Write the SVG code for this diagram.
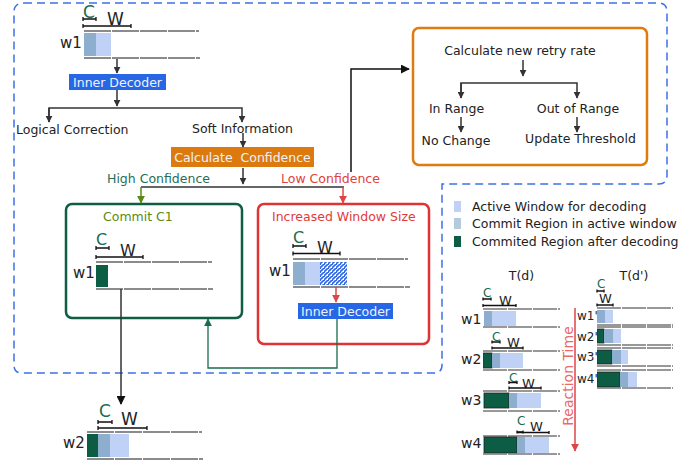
<svg xmlns="http://www.w3.org/2000/svg" width="699" height="464" viewBox="0 0 699 464">
<style>
text{font-family:"DejaVu Sans","Liberation Sans",sans-serif;font-size:12.5px;fill:#222}
.c{fill:#1a6b4f}
.seg{stroke:#666;stroke-width:1.5;stroke-dasharray:27 1;fill:none}
.seg2{stroke:#777;stroke-width:1.5;stroke-dasharray:24 1;fill:none}
.tick{stroke:#111;stroke-width:1.3;fill:none}
.act{fill:#bfd2f6}
.com{fill:#8eaed0}
.dk{fill:#0d5c44}
.dkb{fill:#0d5c44;stroke:#222;stroke-width:0.8}
.ln{stroke:#333;stroke-width:1.5;fill:none}
.wt{fill:#eef3fb}
</style>
<defs>
<marker id="ah" viewBox="0 0 10 10" refX="9" refY="5" markerWidth="7" markerHeight="7" orient="auto" markerUnits="userSpaceOnUse"><path d="M0,0 L10,5 L0,10 z" fill="#333"/></marker>
<marker id="ahb" viewBox="0 0 10 10" refX="9" refY="5" markerWidth="9" markerHeight="9" orient="auto" markerUnits="userSpaceOnUse"><path d="M0,0 L10,5 L0,10 z" fill="#111"/></marker>
<marker id="ahg" viewBox="0 0 10 10" refX="9" refY="5" markerWidth="8" markerHeight="8" orient="auto" markerUnits="userSpaceOnUse"><path d="M0,0 L10,5 L0,10 z" fill="#5a8a10"/></marker>
<marker id="ahr" viewBox="0 0 10 10" refX="9" refY="5" markerWidth="8" markerHeight="8" orient="auto" markerUnits="userSpaceOnUse"><path d="M0,0 L10,5 L0,10 z" fill="#e04545"/></marker>
<marker id="aht" viewBox="0 0 10 10" refX="9" refY="5" markerWidth="8" markerHeight="8" orient="auto" markerUnits="userSpaceOnUse"><path d="M0,0 L10,5 L0,10 z" fill="#1a6b4f"/></marker>
<pattern id="hatch" width="4" height="4" patternUnits="userSpaceOnUse">
<rect width="4" height="4" fill="#ffffff"/>
<path d="M0,4 L4,0" stroke="#2f66e0" stroke-width="1.6"/>
<rect x="0" y="0" width="1" height="1" fill="#2f66e0"/>
</pattern>
</defs>

<!-- dashed outline -->
<path d="M24,3 H658 Q667,3 667,12 V175 Q667,184 659,184 H442 V365 Q442,373 434,373 H22 Q14,373 14,365 V12 Q14,3 24,3 Z" fill="none" stroke="#3d72e6" stroke-width="1.5" stroke-dasharray="8 5"/>

<g id="w1-top">
<text x="83" y="18" class="c" style="font-size:17px">C</text>
<path class="tick" d="M83,19 H96 M83,17 V21 M96,17 V21"/>
<text x="107" y="25" style="font-size:17px">W</text>
<path class="tick" d="M83,26 H131 M83,24 V28 M131,24 V28"/>
<line class="seg" x1="84" y1="31" x2="199" y2="31"/>
<rect class="com" x="84" y="33" width="12" height="23"/>
<rect class="act" x="96" y="33" width="15" height="23"/>
<line class="seg" x1="84" y1="58" x2="200" y2="58"/>
<text x="60" y="48" style="font-size:15px">w1</text>
</g>

<g id="inner-decoder-1">
<rect x="69" y="74" width="97" height="16" fill="#2767e6"/>
<text x="117.5" y="86.5" class="wt" text-anchor="middle" style="font-size:12.5px">Inner Decoder</text>
</g>

<g id="logical-correction"><text x="16" y="134">Logical Correction</text></g>
<g id="soft-information"><text x="192" y="133">Soft Information</text></g>

<g id="calc-confidence">
<rect x="171" y="147" width="143" height="20" fill="#dc7a0f"/>
<text x="242.5" y="162" class="wt" text-anchor="middle" style="font-size:12.5px">Calculate&#160; Confidence</text>
</g>

<g id="labels">
<text x="107" y="183" style="fill:#1f6e5a">High Confidence</text>
<text x="281" y="183" style="fill:#e04040">Low Confidence</text>
</g>

<g id="commit-box">
<rect x="66" y="204" width="176" height="114" rx="6" fill="none" stroke="#0e5e45" stroke-width="2.5"/>
<text x="103" y="221" style="fill:#5a8a10">Commit C1</text>
<text x="96" y="245" class="c" style="font-size:16px">C</text>
<path class="tick" d="M96,248 H109 M96,246 V250 M109,246 V250"/>
<text x="120" y="256" style="font-size:16px">W</text>
<path class="tick" d="M96,257 H143 M96,255 V259 M143,255 V259"/>
<line class="seg" x1="96" y1="262" x2="212" y2="262"/>
<rect class="dk" x="96" y="265" width="12" height="22"/>
<line class="seg" x1="96" y1="289" x2="213" y2="289"/>
<text x="73" y="278" style="font-size:15px">w1</text>
</g>

<g id="increased-window-box">
<rect x="258" y="204" width="171" height="140" rx="6" fill="none" stroke="#e03333" stroke-width="2.5"/>
<text x="272" y="221" style="fill:#e03b3b">Increased Window Size</text>
<text x="293" y="243" class="c" style="font-size:16px">C</text>
<path class="tick" d="M293,246 H306 M293,244 V248 M306,244 V248"/>
<text x="317" y="253" style="font-size:16px">W</text>
<path class="tick" d="M293,253.5 H340 M293,251.5 V255.5 M340,251.5 V255.5"/>
<line class="seg" x1="293" y1="259" x2="408" y2="259"/>
<rect class="com" x="293" y="262" width="12" height="23"/>
<rect class="act" x="305" y="262" width="15" height="23"/>
<rect x="320" y="262" width="27" height="23" fill="url(#hatch)"/>
<line class="seg" x1="293" y1="287" x2="410" y2="287"/>
<text x="269" y="276" style="font-size:15px">w1</text>
<rect x="298" y="303" width="95" height="16" fill="#2767e6"/>
<text x="345.5" y="315.5" class="wt" text-anchor="middle">Inner Decoder</text>
</g>

<g id="retry-box">
<rect x="413" y="28" width="234" height="137" rx="6" fill="none" stroke="#e07b10" stroke-width="2.5"/>
<text x="520" y="55" text-anchor="middle">Calculate new retry rate</text>
<text x="456.5" y="113" text-anchor="middle">In Range</text>
<text x="578" y="113" text-anchor="middle">Out of Range</text>
<text x="456" y="145" text-anchor="middle">No Change</text>
<text x="580.5" y="143" text-anchor="middle">Update Threshold</text>
<g class="conn">
<line class="ln" x1="523" y1="60" x2="523" y2="76" marker-end="url(#ah)"/>
<path class="ln" d="M461,98 V83 H577 V98" marker-end="url(#ah)"/>
<line class="ln" x1="461" y1="83" x2="461" y2="98" marker-end="url(#ah)"/>
<line class="ln" x1="461" y1="117" x2="461" y2="132" marker-end="url(#ah)"/>
<line class="ln" x1="577" y1="117" x2="577" y2="132" marker-end="url(#ah)"/>
</g>
</g>

<g id="w2-bottom">
<text x="99" y="417" class="c" style="font-size:17px">C</text>
<path class="tick" d="M98,422 H112 M98,420 V424 M112,420 V424"/>
<text x="121" y="425" style="font-size:17px">W</text>
<path class="tick" d="M98,428 H147 M98,426 V430 M147,426 V430"/>
<line class="seg" x1="87" y1="432" x2="202" y2="432"/>
<rect class="dk" x="87" y="434" width="11" height="23"/>
<rect class="com" x="98" y="434" width="12" height="23"/>
<rect class="act" x="110" y="434" width="19" height="23"/>
<line class="seg" x1="87" y1="459" x2="203" y2="459"/>
<text x="63" y="448" style="font-size:15px">w2</text>
</g>

<g id="legend">
<rect x="454" y="201" width="7" height="11" fill="#bfd2f6"/>
<text x="472" y="211">Active Window for decoding</text>
<rect x="454" y="218" width="7" height="11" fill="#b3cbdc"/>
<text x="472" y="228">Commit Region in active window</text>
<rect x="454" y="236" width="7" height="11" fill="#0d5c44"/>
<text x="472" y="246">Commited Region after decoding</text>
</g>

<g id="timeline-d">
<text x="521.5" y="280" text-anchor="middle">T(d)</text>
<!-- w1 -->
<text x="483" y="297" class="c" style="font-size:12px">C</text>
<path class="tick" d="M483,299 H491 M483,297.5 V300.5 M491,297.5 V300.5"/>
<text x="499" y="305" style="font-size:13px">W</text>
<path class="tick" d="M483,305.5 H516 M483,304 V307 M516,304 V307"/>
<line class="seg2" x1="483" y1="309" x2="560" y2="309"/>
<rect class="com" x="484" y="311" width="8" height="15"/>
<rect class="act" x="492" y="311" width="24" height="15"/>
<line class="seg2" x1="483" y1="327" x2="560" y2="327"/>
<text x="461" y="324" style="font-size:14px">w1</text>
<!-- w2 -->
<text x="492" y="341" class="c" style="font-size:12px">C</text>
<path class="tick" d="M492,342 H500 M492,340.5 V343.5 M500,340.5 V343.5"/>
<text x="507" y="347" style="font-size:13px">W</text>
<path class="tick" d="M492,348 H523 M492,346.5 V349.5 M523,346.5 V349.5"/>
<line class="seg2" x1="483" y1="351" x2="560" y2="351"/>
<rect class="dkb" x="483.5" y="353" width="8.5" height="15"/>
<rect class="com" x="492" y="353" width="8" height="15"/>
<rect class="act" x="500" y="353" width="23" height="15"/>
<line class="seg2" x1="483" y1="370" x2="560" y2="370"/>
<text x="461" y="364" style="font-size:14px">w2</text>
<!-- w3 -->
<text x="509" y="382" class="c" style="font-size:12px">C</text>
<path class="tick" d="M509,382.5 H517 M509,381 V384 M517,381 V384"/>
<text x="522" y="388" style="font-size:13px">W</text>
<path class="tick" d="M509,388 H541 M509,386.5 V389.5 M541,386.5 V389.5"/>
<line class="seg2" x1="483" y1="391" x2="560" y2="391"/>
<rect class="dkb" x="484" y="393" width="25" height="15"/>
<rect class="com" x="509" y="393" width="8" height="15"/>
<rect class="act" x="517" y="393" width="24" height="15"/>
<line class="seg2" x1="483" y1="411" x2="560" y2="411"/>
<text x="461" y="405" style="font-size:14px">w3</text>
<!-- w4 -->
<text x="517" y="425" class="c" style="font-size:12px">C</text>
<path class="tick" d="M517,432 H523 M517,430.5 V433.5 M523,430.5 V433.5"/>
<text x="530" y="431" style="font-size:13px">W</text>
<path class="tick" d="M517,432.5 H549 M549,431 V434"/>
<line class="seg2" x1="483" y1="436" x2="560" y2="436"/>
<rect class="dkb" x="484" y="437" width="33" height="16"/>
<rect class="com" x="517" y="437" width="8" height="16"/>
<rect class="act" x="525" y="437" width="24" height="16"/>
<line class="seg2" x1="483" y1="454" x2="560" y2="454"/>
<text x="461" y="448" style="font-size:14px">w4</text>
</g>

<g id="reaction-time">
<line x1="575" y1="308" x2="575" y2="451" stroke="#e04545" stroke-width="1.5" marker-end="url(#ahr)"/>
<text x="0" y="0" transform="translate(573,376) rotate(-90)" text-anchor="middle" style="font-size:14px;fill:#e86a6a">Reaction Time</text>
</g>

<g id="timeline-dprime">
<text x="634" y="280" text-anchor="middle">T(d')</text>
<text x="597" y="288" class="c" style="font-size:12px">C</text>
<path class="tick" d="M597,291 H604 M597,289.5 V292.5 M604,289.5 V292.5"/>
<text x="599" y="303" style="font-size:13px">W</text>
<path class="tick" d="M597,305 H613 M597,303.5 V306.5 M613,303.5 V306.5"/>
<!-- w1' -->
<line class="seg2" x1="597" y1="308" x2="673" y2="308"/>
<rect class="com" x="597" y="310" width="8" height="13"/>
<rect class="act" x="605" y="310" width="8" height="13"/>
<line class="seg2" x1="597" y1="325" x2="673" y2="325"/>
<text x="577" y="320" style="font-size:12px">w1'</text>
<!-- w2' -->
<line class="seg2" x1="597" y1="327" x2="673" y2="327"/>
<rect class="dkb" x="597.5" y="329" width="6.5" height="14"/>
<rect class="com" x="604" y="329" width="9" height="14"/>
<rect class="act" x="613" y="329" width="8" height="14"/>
<line class="seg2" x1="597" y1="345" x2="673" y2="345"/>
<text x="577" y="341" style="font-size:12px">w2'</text>
<!-- w3' -->
<line class="seg2" x1="597" y1="348" x2="673" y2="348"/>
<rect class="dkb" x="597.5" y="350" width="14.5" height="14"/>
<rect class="com" x="612" y="350" width="9" height="14"/>
<rect class="act" x="621" y="350" width="7" height="14"/>
<line class="seg2" x1="597" y1="366" x2="673" y2="366"/>
<text x="577" y="361" style="font-size:12px">w3'</text>
<!-- w4' -->
<line class="seg2" x1="597" y1="370" x2="673" y2="370"/>
<rect class="dkb" x="597.5" y="372" width="22.5" height="15"/>
<rect class="com" x="620" y="372" width="8" height="15"/>
<rect class="act" x="628" y="372" width="9" height="15"/>
<line class="seg2" x1="597" y1="388" x2="673" y2="388"/>
<text x="577" y="383" style="font-size:12px">w4'</text>
</g>

<g id="connectors">
<line class="ln" x1="117" y1="59" x2="117" y2="73" marker-end="url(#ah)"/>
<line class="ln" x1="117" y1="90" x2="117" y2="106" marker-end="url(#ah)"/>
<path class="ln" d="M49,122 V108 H242 V122" marker-end="url(#ah)"/>
<line class="ln" x1="49" y1="108" x2="49" y2="122" marker-end="url(#ah)"/>
<line class="ln" x1="243" y1="133" x2="243" y2="147" marker-end="url(#ah)"/>
<line class="ln" x1="243" y1="168" x2="243" y2="184" marker-end="url(#ah)"/>
<line class="ln" x1="141" y1="187" x2="344" y2="187"/>
<line x1="141" y1="187" x2="141" y2="203" stroke="#5a8a10" stroke-width="1.5" marker-end="url(#ahg)"/>
<line x1="343" y1="187" x2="343" y2="203" stroke="#e04545" stroke-width="1.5" marker-end="url(#ahr)"/>
<path d="M351,172 V69 H409" fill="none" stroke="#111" stroke-width="1.5" marker-end="url(#ahb)"/>
<line x1="336" y1="287" x2="336" y2="302" stroke="#e04545" stroke-width="1.5" marker-end="url(#ahr)"/>
<path d="M337,319 V368 H208 V319" fill="none" stroke="#1a6b4f" stroke-width="1.3" marker-end="url(#aht)"/>
<line x1="121" y1="289" x2="121" y2="404" stroke="#333" stroke-width="1.5" marker-end="url(#ahb)"/>
</g>
</svg>
